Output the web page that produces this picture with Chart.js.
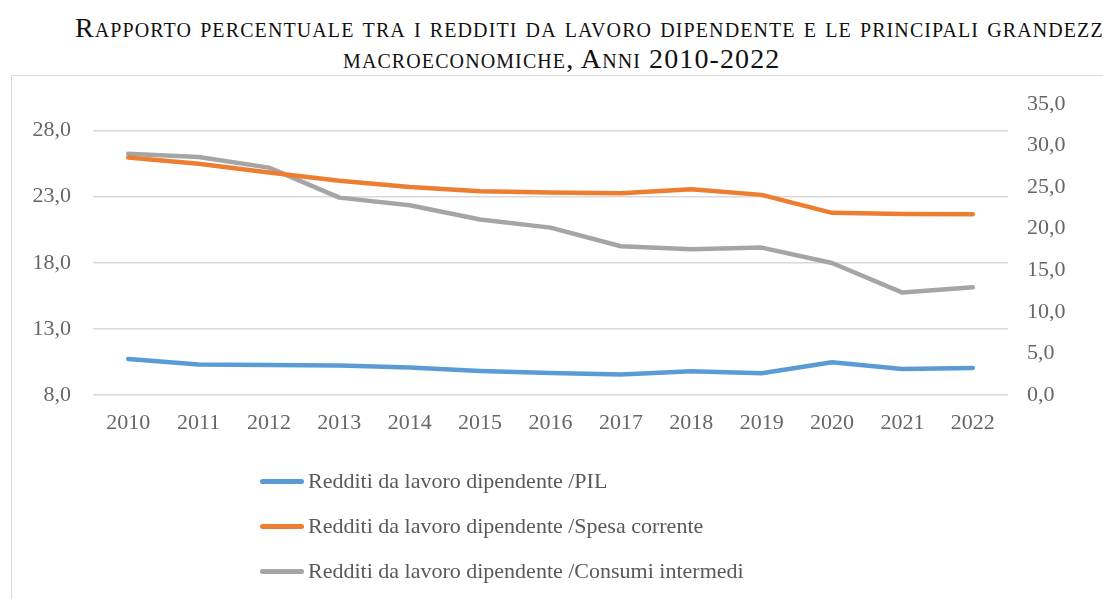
<!DOCTYPE html>
<html lang="it">
<head>
<meta charset="utf-8">
<title>Redditi da lavoro dipendente</title>
<script src="https://cdn.jsdelivr.net/npm/chart.js@4"></script>
<style>
  html, body { margin: 0; padding: 0; background: #fff; }
  body { width: 1103px; height: 599px; overflow: hidden; position: relative; font-family: "Liberation Serif", "DejaVu Serif", serif; }
  .title-line { position: absolute; white-space: nowrap; font-variant: small-caps; font-size: 28px; letter-spacing: 1.1px; color: #111; line-height: 1; }
  #t1 { left: 75px; top: 14px; }
  #t2 { left: 343px; top: 45px; }
  .frame { position: absolute; left: 11px; top: 75px; width: 1200px; height: 700px; border: 1.5px solid #d9d9d9; }
  #chart { position: absolute; left: 0; top: 0; }
  #legend { position: absolute; left: 260px; top: 466px; }
  .leg-item { height: 45px; display: flex; align-items: flex-start; }
  .leg-line { width: 44px; height: 5px; border-radius: 3px; margin-top: 13px; }
  .leg-text { margin-left: 4px; font-size: 22px; color: #595959; line-height: 30px; }
</style>
</head>
<body>
<div class="title-line" id="t1">Rapporto percentuale tra i redditi da lavoro dipendente e le principali grandezze</div>
<div class="title-line" id="t2">macroeconomiche, Anni 2010-2022</div>
<div class="frame"></div>
<canvas id="chart" width="1103" height="599"></canvas>
<div id="legend"></div>
<script>
const years = ['2010', '2011', '2012', '2013', '2014', '2015', '2016', '2017', '2018', '2019', '2020', '2021', '2022'];
const redditiPil = [10.73, 10.30, 10.27, 10.23, 10.08, 9.82, 9.67, 9.55, 9.80, 9.64, 10.48, 9.97, 10.05];
const redditiSpesa = [25.95, 25.48, 24.82, 24.19, 23.73, 23.41, 23.30, 23.26, 23.56, 23.13, 21.77, 21.69, 21.67];
const redditiConsumi = [29.03, 28.63, 27.35, 23.74, 22.82, 21.10, 20.13, 17.89, 17.52, 17.73, 15.88, 12.32, 12.95];
const leftTicks = [8, 13, 18, 23, 28];

const FONT = '"Liberation Serif", "DejaVu Serif", serif';
const TICK_COLOR = '#666666';

const fmt = v => Number(v).toFixed(1).replace('.', ',');

function lineDataset(label, data, color, axis) {
  return {
    label,
    data,
    yAxisID: axis,
    borderColor: color,
    backgroundColor: color,
    borderWidth: 4.5,
    borderCapStyle: 'round',
    borderJoinStyle: 'round',
    pointRadius: 0,
    pointHoverRadius: 0,
    tension: 0,
    fill: false,
  };
}

const chart = new Chart(document.getElementById('chart'), {
  type: 'line',
  data: {
    labels: years,
    datasets: [
      lineDataset('Redditi da lavoro dipendente /PIL', redditiPil, '#5b9bd5', 'y'),
      lineDataset('Redditi da lavoro dipendente /Spesa corrente', redditiSpesa, '#ed7d31', 'y'),
      lineDataset('Redditi da lavoro dipendente /Consumi intermedi', redditiConsumi, '#a5a5a5', 'y1'),
    ],
  },
  options: {
    responsive: false,
    animation: false,
    layout: { padding: { left: 11, right: 0, top: 104, bottom: 164 } },
    plugins: {
      legend: { display: false },
      title: { display: false },
      tooltip: { enabled: false },
    },
    scales: {
      x: {
        offset: true,
        grid: { display: false, drawTicks: false },
        border: { display: false },
        ticks: { color: TICK_COLOR, font: { family: FONT, size: 22 }, padding: 15, maxRotation: 0 },
        afterFit: s => { s.height = 40; },
      },
      y: {
        position: 'left',
        min: 8,
        max: 30,
        afterBuildTicks: s => { s.ticks = leftTicks.map(v => ({ value: v })); },
        grid: { color: '#d9d9d9', lineWidth: 1.5, drawTicks: false },
        border: { display: false },
        ticks: { color: TICK_COLOR, font: { family: FONT, size: 22 }, padding: 22, callback: fmt },
        afterFit: s => { s.width = 82; },
      },
      y1: {
        position: 'right',
        min: 0,
        max: 35,
        grid: { display: false, drawTicks: false },
        border: { display: false },
        ticks: { stepSize: 5, color: TICK_COLOR, font: { family: FONT, size: 22 }, padding: 19, callback: fmt },
        afterFit: s => { s.width = 95; },
      },
    },
  },
});

// legend stacked one item per row, built from the datasets
document.getElementById('legend').innerHTML = chart.data.datasets.map(d => `
  <div class="leg-item">
    <div class="leg-line" style="background:${d.borderColor}"></div>
    <div class="leg-text">${d.label}</div>
  </div>
`).join('');
</script>
</body>
</html>
